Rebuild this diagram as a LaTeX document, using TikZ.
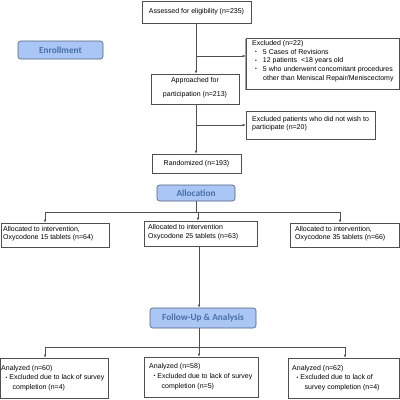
\documentclass[tikz,border=0pt]{standalone}
\usepackage{fontspec}
\setmainfont{Liberation Sans}
\newfontfamily\labfont{Carlito}
\usetikzlibrary{arrows.meta,positioning}
\definecolor{boxline}{HTML}{505050}
\definecolor{labfill}{HTML}{A9C6F5}
\definecolor{labline}{HTML}{4F5F7F}
\definecolor{labtext}{HTML}{4A6FA8}
\newcommand{\smbul}{\raisebox{0.6pt}{\fontsize{5}{5}\selectfont\textbullet}}
\tikzset{
  box/.style={draw=boxline,line width=0.6pt,fill=white,inner sep=0pt,font=\fontsize{7}{9}\selectfont,align=center},
  lab/.style={draw=labline,line width=0.6pt,fill=labfill,rounded corners=2.5pt,inner sep=0pt,font=\labfont\bfseries\fontsize{9.3}{10}\selectfont,text=labtext},
  txt/.style={inner sep=0pt,font=\fontsize{7}{8.6}\selectfont,align=left,anchor=north west},
  txtb/.style={txt,font=\fontsize{7}{9.7}\selectfont},
  conn/.style={draw=boxline,line width=0.6pt},
  arr/.style={conn,-{Latex[length=3pt,width=2.6pt]}}
}
\begin{document}
\begin{tikzpicture}[x=1pt,y=-1pt]
\useasboundingbox (0,0) rectangle (400,400);
% top
\node[box,minimum width=109pt,minimum height=22pt] (assess) at (196.5,12) {Assessed for eligibility (n=235)};
\node[lab,minimum width=85pt,minimum height=18pt] (enroll) at (60.5,50) {Enrollment};
% excluded box with shadow
\fill[gray!70] (245,39.2) rectangle (398,90.2);
\node[box,minimum width=153pt,minimum height=51pt] (excl) at (322.5,63.5) {};
\node[txt] (excltxt) at (252,40.5) {Excluded (n=22)\\
\hspace*{3pt}\smbul\hspace{6pt}5 Cases of Revisions\\
\hspace*{3pt}\smbul\hspace{6pt}12 patients\ \ <18 years old\\
\hspace*{3pt}\smbul\hspace{6pt}5 who underwent concomitant procedures\\
\hspace*{11pt}other than Meniscal Repair/Meniscectomy};
\node[box,minimum width=88pt,minimum height=30pt] (appr) at (195,89) {};
\node[inner sep=0pt,font=\fontsize{7}{14}\selectfont,align=center] (apprtxt) at (195,87.3) {Approached for\\participation (n=213)};
\node[box,minimum width=129pt,minimum height=28pt] (exclp) at (310.5,125) {};
\node[txt] (exclptxt) at (252,116) {Excluded patients who did not wish to\\participate (n=20)};
\node[box,minimum width=89pt,minimum height=19pt] (rand) at (196.5,163.5) {Randomized (n=193)};
\node[lab,minimum width=78pt,minimum height=16pt] (alloc) at (196,193) {Allocation};
% allocation boxes
\node[box,minimum width=108pt,minimum height=24pt] (g1) at (55,235) {};
\node[txt] (g1t) at (3,226) {Allocated to intervention,\\Oxycodone 15 tablets (n=64)};
\node[box,minimum width=113pt,minimum height=25pt] (g2) at (200.5,233.5) {};
\node[txt] (g2t) at (148,224.2) {Allocated to intervention\\Oxycodone 25 tablets (n=63)};
\node[box,minimum width=109pt,minimum height=24pt] (g3) at (344.5,235) {};
\node[txt] (g3t) at (295,226) {Allocated to intervention,\\Oxycodone 35 tablets (n=66)};
\node[lab,minimum width=106pt,minimum height=20pt] (follow) at (203,318) {Follow-Up \& Analysis};
% analysis boxes
\node[box,minimum width=108pt,minimum height=40pt] (a1) at (54,378) {};
\node[txtb] (a1t) at (1,365) {Analyzed (n=60)\\
\hspace*{4.5pt}\smbul\hspace{2pt}Excluded due to lack of survey\\
\hspace*{11.5pt}completion (n=4)};
\node[box,minimum width=114pt,minimum height=40pt] (a2) at (201,377) {};
\node[txtb] (a2t) at (149,363.5) {Analyzed (n=58)\\
\hspace*{4.5pt}\smbul\hspace{2pt}Excluded due to lack of survey\\
\hspace*{12.5pt}completion (n=5)};
\node[box,minimum width=111pt,minimum height=40pt] (a3) at (343.5,378) {};
\node[txtb] (a3t) at (292,365) {Analyzed (n=62)\\
\hspace*{4.5pt}\smbul\hspace{2pt}Excluded due to lack of\\
\hspace*{12.5pt}survey completion (n=4)};
% coordinates
\coordinate (j1) at (196,56);
\coordinate (j2) at (196,125);
\coordinate (h1) at (196,212);
\coordinate (h2) at (199,347);
% connectors
\draw[arr] (assess.south -| j1) -- (appr.north -| j1);
\draw[arr] (j1) -- (excl.west |- j1);
\draw[arr] (appr.south -| j1) -- (rand.north -| j1);
\draw[arr] (j2) -- (exclp.west |- j2);
\draw[conn] (alloc.south -| h1) -- (h1);
\draw[conn] (45,212) -- (340,212);
\draw[arr] (45,212) -- (g1.north -| 45,0);
\draw[arr] (198,212) -- (g2.north -| 198,0);
\draw[arr] (340,212) -- (g3.north -| 340,0);
\draw[arr] (g2.south -| 199,0) -- (follow.north -| 199,0);
\draw[conn] (follow.south -| h2) -- (h2);
\draw[conn] (45,347) -- (345,347);
\draw[arr] (45,347) -- (a1.north -| 45,0);
\draw[arr] (199,347) -- (a2.north -| 199,0);
\draw[arr] (345,347) -- (a3.north -| 345,0);
\end{tikzpicture}
\end{document}
